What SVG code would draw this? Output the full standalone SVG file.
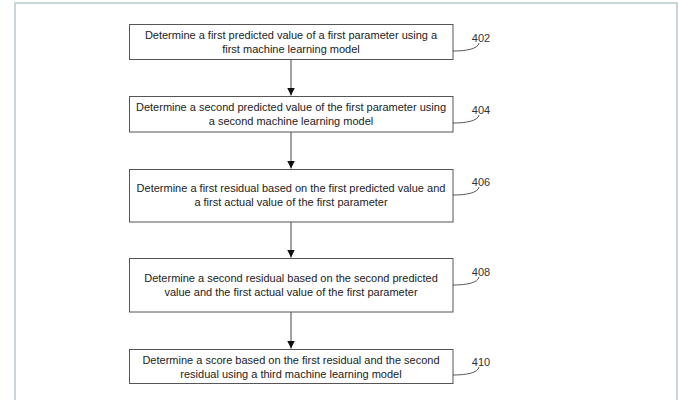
<svg xmlns="http://www.w3.org/2000/svg" width="678" height="400" viewBox="0 0 678 400">
<defs>
<marker id="ah" viewBox="0 0 10 10" refX="10" refY="5" markerWidth="8" markerHeight="8" markerUnits="userSpaceOnUse" orient="auto">
<path d="M0,0 L10,5 L0,10 Z" fill="#111"/>
</marker>
<style>
.box{fill:#fff;stroke:#555;stroke-width:1}
.t{font-family:"Liberation Sans",Arial,sans-serif;font-size:11px;fill:#222;text-anchor:middle}
.lbl{font-family:"Liberation Sans",Arial,sans-serif;font-size:11px;fill:#333;text-anchor:middle}
.lead{fill:none;stroke:#444;stroke-width:0.9}
.conn{stroke:#444;stroke-width:1;fill:none}
</style>
</defs>
<rect x="0" y="0" width="678" height="400" fill="#fff"/>
<rect x="15" y="3" width="662" height="430" fill="none" stroke="#c9d6d9" stroke-width="2"/>
<g id="connectors">
<line class="conn" x1="291" y1="59.5" x2="291" y2="95.5" marker-end="url(#ah)"/>
<line class="conn" x1="291" y1="132" x2="291" y2="168.5" marker-end="url(#ah)"/>
<line class="conn" x1="291" y1="222" x2="291" y2="257.5" marker-end="url(#ah)"/>
<line class="conn" x1="291" y1="312" x2="291" y2="348.5" marker-end="url(#ah)"/>
</g>
<g id="n402">
<rect class="box" x="129.5" y="24.5" width="323.5" height="35"/>
<text class="t" x="291" y="38.5">Determine a first predicted value of a first parameter using a</text>
<text class="t" x="291" y="52.5">first machine learning model</text>
<path class="lead" d="M453,51 C466,51 478,49 479,43"/>
<text class="lbl" x="481" y="42">402</text>
</g>
<g id="n404">
<rect class="box" x="129.5" y="96.5" width="323.5" height="35.5"/>
<text class="t" x="291" y="110.5">Determine a second predicted value of the first parameter using</text>
<text class="t" x="291" y="124.5">a second machine learning model</text>
<path class="lead" d="M453,123 C466,123 478,121 479,115"/>
<text class="lbl" x="481" y="114">404</text>
</g>
<g id="n406">
<rect class="box" x="129.5" y="169.5" width="323.5" height="52.5"/>
<text class="t" x="291" y="192">Determine a first residual based on the first predicted value and</text>
<text class="t" x="291" y="206">a first actual value of the first parameter</text>
<path class="lead" d="M453,195 C466,195 478,193 479,187"/>
<text class="lbl" x="481" y="186">406</text>
</g>
<g id="n408">
<rect class="box" x="129.5" y="258.5" width="323.5" height="53.5"/>
<text class="t" x="291" y="281.5">Determine a second residual based on the second predicted</text>
<text class="t" x="291" y="295.5">value and the first actual value of the first parameter</text>
<path class="lead" d="M453,285 C466,285 478,283 479,277"/>
<text class="lbl" x="481" y="276">408</text>
</g>
<g id="n410">
<rect class="box" x="129.5" y="349.5" width="323.5" height="34"/>
<text class="t" x="291" y="363.5">Determine a score based on the first residual and the second</text>
<text class="t" x="291" y="377.5">residual using a third machine learning model</text>
<path class="lead" d="M453,375 C466,375 478,373 479,367"/>
<text class="lbl" x="481" y="366">410</text>
</g>
</svg>
